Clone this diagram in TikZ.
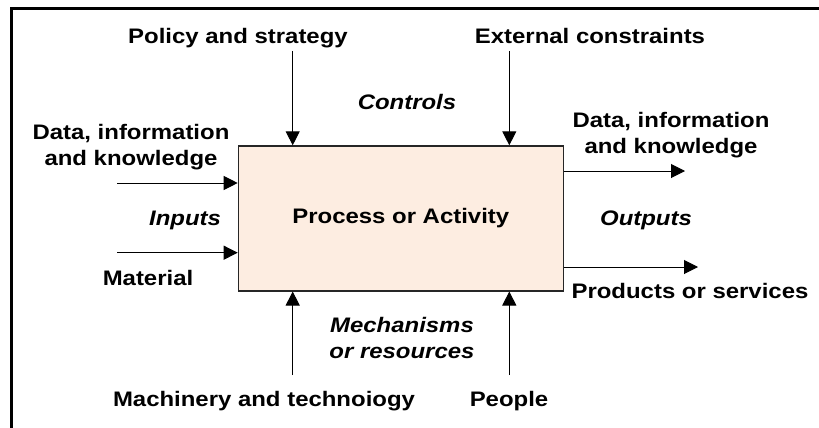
\documentclass[tikz,border=0pt]{standalone}
\usepackage{fontspec}
\setmainfont{Liberation Sans}[FakeStretch=1.14]
\usetikzlibrary{arrows.meta}
\definecolor{peach}{RGB}{253,237,225}

\begin{document}
\begin{tikzpicture}[x=1pt,y=-1pt,
  lbl/.style={font=\fontsize{21}{26}\selectfont\bfseries,align=center,anchor=base,inner sep=0},
  role/.style={lbl,font=\fontsize{21}{26}\selectfont\bfseries\itshape},
  flow/.style={-{Triangle[length=14pt,width=14pt]},line width=1pt}]
\useasboundingbox (0,0) rectangle (819,428);
\draw[line width=3pt] (11,428) -- (11,9) -- (819,9);
\node[draw=black!85,fill=peach,line width=1.2pt,minimum width=325pt,minimum height=145pt,inner sep=0] (proc) at (400.8,218.4) {\fontsize{21}{26}\selectfont\bfseries Process or Activity};
\coordinate (pol) at (292.7,51);
\coordinate (ext) at (509.3,51);
\coordinate (in1) at (117,183);
\coordinate (in2) at (117,252.7);
\coordinate (out1) at (685,171);
\coordinate (out2) at (698,267);
\coordinate (mach) at (292.7,375);
\coordinate (ppl) at (509.3,375);
\draw[flow] (pol) -- (pol |- proc.north);
\draw[flow] (ext) -- (ext |- proc.north);
\draw[flow] (in1) -- (in1 -| proc.west);
\draw[flow] (in2) -- (in2 -| proc.west);
\draw[flow] (out1 -| proc.east) -- (out1);
\draw[flow] (out2 -| proc.east) -- (out2);
\draw[flow] (mach) -- (mach |- proc.south);
\draw[flow] (ppl) -- (ppl |- proc.south);
% labels, base = last line
\node at (238,44) [lbl] (polname) {Policy and strategy};
\node at (590,44) [lbl] (extname) {External constraints};
\node at (407,110) [role] (controls) {Controls};
\node at (131,165) [lbl] (inname) {Data, information\\and knowledge};
\node at (185,225) [role] (inputs) {Inputs};
\node at (148,285) [lbl] (material) {Material};
\node at (671,153) [lbl] (outname) {Data, information\\and knowledge};
\node at (646,225) [role] (outputs) {Outputs};
\node at (690,298) [lbl] (products) {Products or services};
\node at (402,358) [role] (mechs) {Mechanisms\\or resources};
\node at (264,406) [lbl] (machname) {Machinery and technoiogy};
\node at (509,406) [lbl] (people) {People};
\end{tikzpicture}
\end{document}
